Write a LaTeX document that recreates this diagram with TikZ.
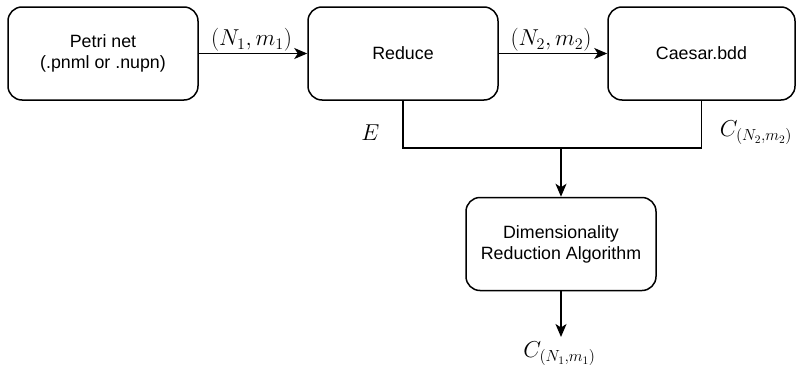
\RequirePackage{fix-cm}
\documentclass[tikz,border=0pt]{standalone}
\usepackage{fontspec}
\setmainfont{Liberation Sans}
\usetikzlibrary{arrows.meta}
\begin{document}
\begin{tikzpicture}[x=1pt,y=-1pt,
  box/.style={draw,line width=1.5pt,rounded corners=14pt,minimum width=190pt,minimum height=93pt,align=center,font=\fontsize{17.8}{21}\selectfont,inner sep=0pt},
  conn/.style={line width=1.5pt},
  arr/.style={conn,-{Stealth[length=13pt,width=11pt,inset=3.5pt]}},
  lab/.style={font=\fontsize{23}{27}\selectfont,inner sep=0pt}]
\useasboundingbox (0,0) rectangle (796,367);
\node[box] (petri) at (103,53.5) {Petri net\\(.pnml or .nupn)};
\node[box] (reduce) at (403,53.5) {Reduce};
\node[box,minimum width=187pt] (caesar) at (701.5,53.5) {Caesar.bdd};
\node[box] (dim) at (561,244) {Dimensionality\\Reduction Algorithm};
\coordinate (merge) at (561,148);
\coordinate (out) at (561,337);
\draw[arr] (petri) -- (reduce);
\draw[arr] (reduce) -- (caesar);
\draw[conn] (reduce.south) |- (merge);
\draw[conn] (caesar.south) |- (merge);
\draw[arr] (merge) -- (dim.north);
\draw[arr] (dim.south) -- (out);
\node[lab] (l1) at (251.5,40) {$(N_1,m_1)$};
\node[lab] (l2) at (551,40) {$(N_2,m_2)$};
\node[lab] (le) at (370.5,132.5) {$E$};
\node[lab] (lc2) at (756,133) {$C_{(N_2,m_2)}$};
\node[lab] (lc1) at (559.5,354) {$C_{(N_1,m_1)}$};
\end{tikzpicture}
\end{document}
